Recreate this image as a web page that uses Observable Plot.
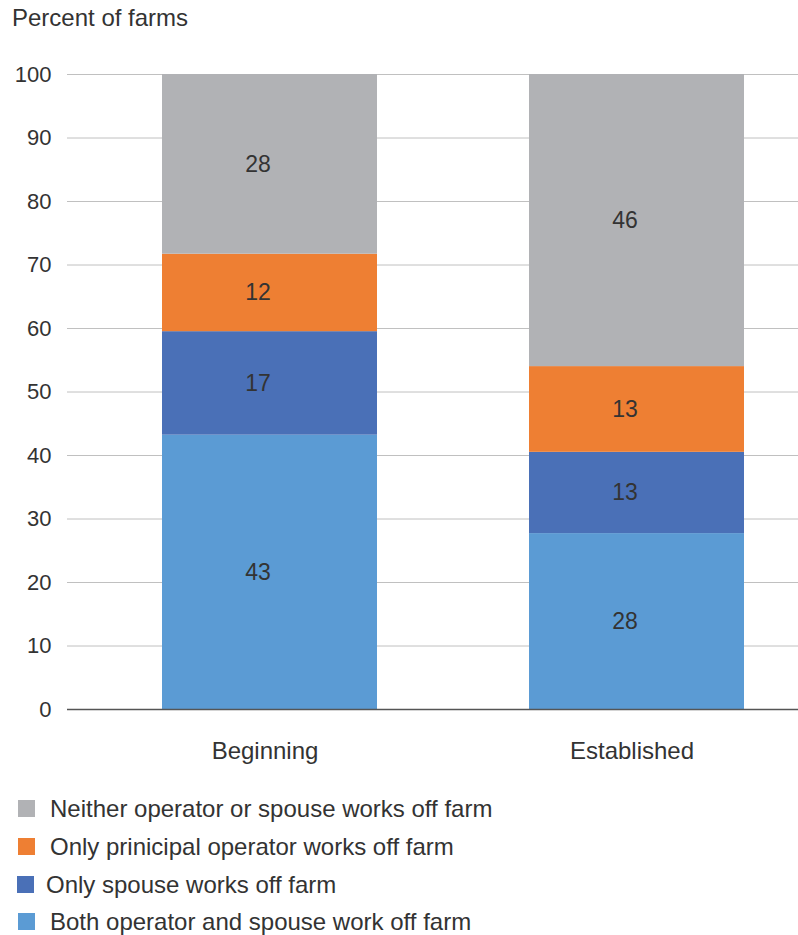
<!DOCTYPE html>
<html>
<head>
<meta charset="utf-8">
<script src="https://cdn.jsdelivr.net/npm/d3@7"></script>
<script src="https://cdn.jsdelivr.net/npm/@observablehq/plot@0.6"></script>
<style>
  body { margin: 0; background: #fff; font-family: "Liberation Sans", Arial, sans-serif; color: #333; }
  #title { position: absolute; left: 12px; top: 3px; font-size: 24px; line-height: 30px; color: #333; }
  #chart { position: absolute; left: 0; top: 36px; }
  #legend { position: absolute; left: 0; top: 796px; }
  .row { position: absolute; height: 26px; font-size: 24px; line-height: 26px; white-space: nowrap; color: #333; }
  .sw { position: absolute; top: 4px; width: 17px; height: 17px; }
  .txt { position: absolute; top: 0; }
</style>
</head>
<body>
<div id="title">Percent of farms</div>
<div id="chart"></div>
<div id="legend"></div>
<script>
const categories = ["Beginning", "Established"];
const series = [
  "Both operator and spouse work off farm",
  "Only spouse works off farm",
  "Only principal operator works off farm",
  "Neither operator or spouse works off farm"
];
const legendLabels = [
  "Neither operator or spouse works off farm",
  "Only prinicipal operator works off farm",
  "Only spouse works off farm",
  "Both operator and spouse work off farm"
];
const colors = ["#5b9bd4", "#4a70b7", "#ee7f33", "#b1b2b5"];
const legendColors = ["#b1b2b5", "#ee7f33", "#4a70b7", "#5b9bd4"];
const beginningValues = [43.2, 16.3, 12.2, 28.3];
const establishedValues = [27.7, 12.8, 13.5, 46.0];
// printed labels
const beginningLabels = ["43", "17", "12", "28"];
const establishedLabels = ["28", "13", "13", "46"];
const yTicks = [0, 10, 20, 30, 40, 50, 60, 70, 80, 90, 100];

const data = [];
categories.forEach((c, ci) => {
  const vals = ci === 0 ? beginningValues : establishedValues;
  const labs = ci === 0 ? beginningLabels : establishedLabels;
  series.forEach((s, si) => data.push({category: c, series: s, value: vals[si], label: labs[si], order: si}));
});

const chart = Plot.plot({
  width: 798,
  height: 733,
  marginTop: 38,
  marginBottom: 60,
  marginLeft: 67,
  marginRight: 0,
  style: {fontFamily: "Liberation Sans, Arial, sans-serif", fontSize: "22px", color: "#333", background: "#fff"},
  x: {domain: categories, paddingInner: 0.415, paddingOuter: 0.202, align: 0.633, label: null},
  y: {domain: [0, 100], label: null},
  color: {domain: series, range: colors},
  marks: [
    Plot.ruleY(yTicks.filter(d => d > 0), {stroke: "#c0c0c0", strokeWidth: 1}),
    Plot.barY(data, Plot.stackY({x: "category", y: "value", fill: "series", order: "order"})),
    Plot.text(data, Plot.stackY({x: "category", y: "value", z: "series", order: "order", text: "label", fill: "#333", fontSize: 23, dx: -12})),
    Plot.ruleY([0], {stroke: "#555", strokeWidth: 1.5}),
    Plot.axisY({ticks: yTicks, tickSize: 0, tickPadding: 16, fontSize: 22, fill: "#333", label: null}),
    Plot.axisX({tickSize: 0, tickPadding: 32, fontSize: 24, fill: "#333", label: null, dx: -5})
  ]
});
document.getElementById("chart").appendChild(chart);

const legend = document.getElementById("legend");
const rowTops = [0, 38, 76, 113];
legendLabels.forEach((lab, i) => {
  const row = document.createElement("div");
  row.className = "row";
  row.style.top = rowTops[i] + "px";
  row.style.left = "0px";
  const sw = document.createElement("div");
  sw.className = "sw";
  sw.style.background = legendColors[i];
  sw.style.left = (i === 2 ? 17 : 18) + "px";
  const t = document.createElement("div");
  t.className = "txt";
  t.style.left = (i === 2 ? 46 : 50) + "px";
  t.textContent = lab;
  row.appendChild(sw);
  row.appendChild(t);
  legend.appendChild(row);
});
</script>
</body>
</html>
